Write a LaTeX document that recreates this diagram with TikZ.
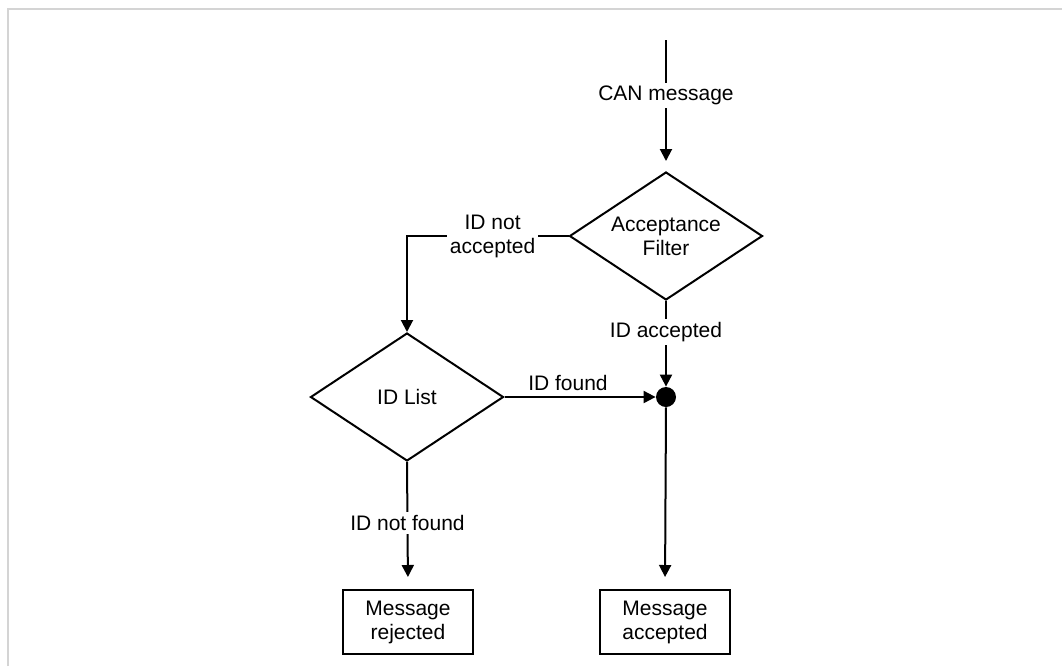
\documentclass[tikz,border=0pt]{standalone}
\usepackage{fontspec}
\setmainfont{Liberation Sans}
\usetikzlibrary{shapes.geometric,arrows.meta}
\begin{document}
\begin{tikzpicture}[x=0.5pt,y=-0.5pt,
  every node/.style={font=\fontsize{10.5}{12}\selectfont},
  dec/.style={draw,line width=1pt,shape=diamond,shape aspect=1.5,inner sep=0pt,
    minimum width=96.5pt,minimum height=64pt,align=center},
  endbox/.style={draw,line width=1pt,minimum width=65pt,minimum height=32pt,
    inner sep=0pt,align=center},
  conn/.style={line width=1pt,-{Triangle[length=6pt,width=6pt]}},
  plain/.style={line width=1pt},
  lbl/.style={fill=white,inner sep=1.5pt,align=center},
  frame/.style={draw=black!17,line width=1pt}
]
\useasboundingbox (0,0) rectangle (1062,666);
\draw[frame] (7.5,666) -- (7.5,9) -- (1062,9);

\coordinate (in) at (666,40);
\node[dec] (af) at (666,236) {Acceptance\\Filter};
\node[dec] (idl) at (407,397) {ID List};
\node[circle,fill=black,inner sep=0pt,minimum size=10pt] (dot) at (666,397) {};
\node[endbox] (rej) at (408,622) {Message\\rejected};
\node[endbox] (acc) at (665,622) {Message\\accepted};

\draw[conn,shorten >=5pt] (in) -- node[lbl,pos=0.42] {CAN message} (af.north);
\draw[conn] (af.west) -| node[lbl,pos=0.235] {ID not\\accepted} (idl.north);
\draw[conn] (af.south) -- node[lbl,pos=0.36] {ID accepted} (dot.north);
\draw[conn] (idl.east) -- node[lbl,pos=0.42,anchor=base,yshift=3.5pt] {ID found} (dot.west);
\draw[conn,shorten >=6pt] (dot.south) -- (acc.north);
\draw[conn,shorten >=6pt] (idl.south) -- node[lbl,pos=0.48] {ID not found} (rej.north);
\end{tikzpicture}
\end{document}
